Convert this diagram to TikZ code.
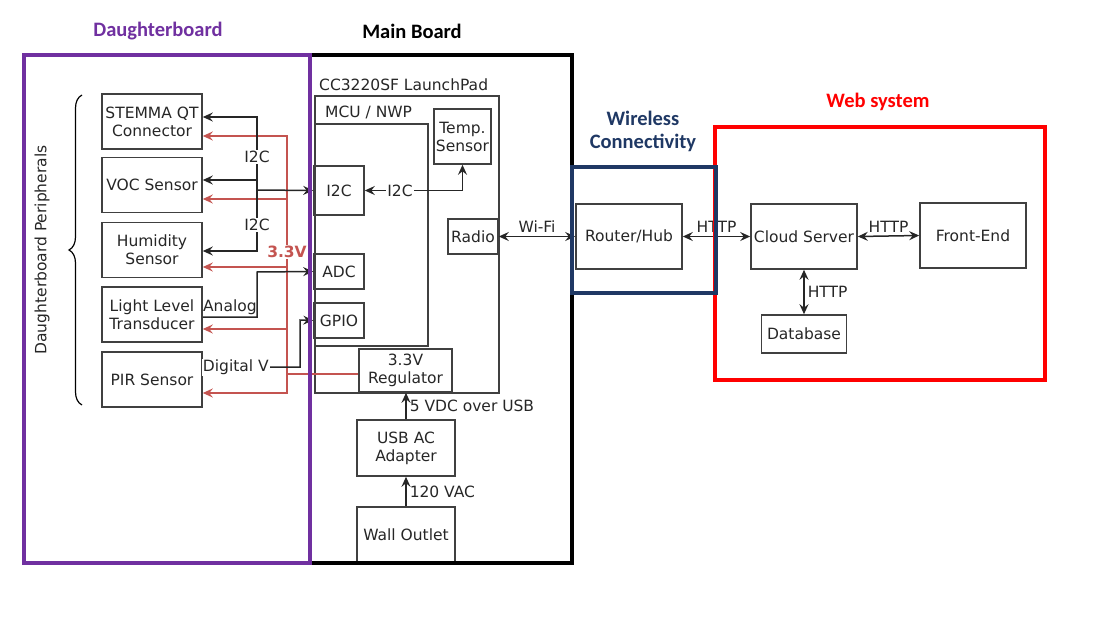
\documentclass[tikz,border=0pt]{standalone}
\usepackage{fontspec}
\setmainfont{DejaVu Sans}
\newfontfamily\headfont{Carlito}
\usetikzlibrary{arrows.meta,decorations.pathreplacing}
\definecolor{dbpurple}{RGB}{112,48,160}
\definecolor{wlnavy}{RGB}{31,56,100}
\definecolor{webred}{RGB}{255,0,0}
\definecolor{pwrred}{RGB}{196,84,80}
\tikzset{
  blk/.style={draw=black!75,line width=1.6pt,align=center,inner sep=1pt,
    font=\fontsize{15.5}{18}\selectfont,text=black!85},
  boardframe/.style={line width=4pt},
  head/.style={font=\headfont\bfseries\fontsize{20.5}{23}\selectfont,align=center},
  lbl/.style={font=\fontsize{15.5}{18}\selectfont,text=black!85,inner sep=1pt},
  bus/.style={draw=black!85,line width=1.5pt},
  pwr/.style={draw=pwrred,line width=1.5pt},
  >={Stealth[length=10pt,width=9pt,inset=3.5pt]}
}

\begin{document}
\begin{tikzpicture}[x=1pt,y=-1pt]
    \useasboundingbox (0,0) rectangle (1102,623);

    \node[head,text=dbpurple] (dbhead) at (158,31) {Daughterboard};
    \node[head] (mbhead) at (412,31) {Main Board};
    \node[head,text=wlnavy] (wlhead) at (643,131) {Wireless\\Connectivity};
    \node[head,text=webred] (webhead) at (878,102) {Web system};

    \node[lbl,rotate=90] (perlbl) at (42,250) {Daughterboard Peripherals};
    \draw[line width=1.2pt,decorate,decoration={brace,amplitude=13pt}] (82,405) -- (82,95);

    \node[blk,minimum width=100pt,minimum height=55pt] (stemma) at (152,121.5) {STEMMA QT\\Connector};
    \node[blk,minimum width=100pt,minimum height=55pt] (voc) at (152,185) {VOC Sensor};
    \node[blk,minimum width=100pt,minimum height=55pt] (humid) at (152,250) {Humidity\\Sensor};
    \node[blk,minimum width=100pt,minimum height=55pt] (light) at (152,314.5) {Light Level\\Transducer};
    \node[blk,minimum width=100pt,minimum height=55pt] (pir) at (152,379.5) {PIR Sensor};

    \node[blk,minimum width=184pt,minimum height=297pt,anchor=north west] (lp) at (314,95) {};
    \node[lbl,anchor=west] (lplbl) at (318,85) {CC3220SF LaunchPad};
    \node[blk,minimum width=113pt,minimum height=222pt,anchor=north west] (mcu) at (314,123) {};
    \node[lbl,anchor=west] (mculbl) at (324,112) {MCU / NWP};
    \node[blk,minimum width=57pt,minimum height=55pt] (temp) at (462.5,136.5) {Temp.\\Sensor};
    \node[blk,minimum width=50pt,minimum height=49pt] (i2cm) at (339,190.5) {I2C};
    \node[blk,minimum width=50pt,minimum height=35pt] (radio) at (473,236.5) {Radio};
    \node[blk,minimum width=50pt,minimum height=35pt] (adc) at (339,271.5) {ADC};
    \node[blk,minimum width=50pt,minimum height=35pt] (gpio) at (339,320.5) {GPIO};
    \node[blk,minimum width=93pt,minimum height=43pt] (reg) at (405.5,370.5) {3.3V\\Regulator};
    \node[blk,minimum width=98pt,minimum height=56pt] (usb) at (406,448) {USB AC\\Adapter};
    \node[blk,minimum width=98pt,minimum height=56pt] (wall) at (406,535) {Wall Outlet};

    \node[blk,minimum width=106pt,minimum height=65pt] (router) at (629,236.5) {Router/Hub};
    \node[blk,minimum width=106pt,minimum height=65pt] (cloud) at (804,236.5) {Cloud Server};
    \node[blk,minimum width=106pt,minimum height=65pt] (front) at (973,235.5) {Front-End};
    \node[blk,minimum width=85pt,minimum height=38pt] (db) at (804,334) {Database};

    \coordinate (i2cbus) at (257,190);
    \coordinate (pwrbus) at (287,374);
    \coordinate (anlg) at (257,272);
    \coordinate (dgt) at (300,320);

    \draw[pwr,<-] (stemma.east |- 0,136) -| (pwrbus);
    \draw[pwr,<-] (voc.east |- 0,199) -| (pwrbus);
    \draw[pwr,<-] (humid.east |- 0,267) -| (pwrbus);
    \draw[pwr,<-] (light.east |- 0,329) -| (pwrbus);
    \draw[pwr,<-] (pir.east |- 0,393) -| (pwrbus);
    \draw[pwr] (pwrbus) -- (reg.west |- pwrbus);
    \node[lbl,fill=white,text=pwrred,font=\bfseries\fontsize{15.5}{18}\selectfont] (pwrlbl) at (287,252) {3.3V};

    \draw[bus,<-] (stemma.east |- 0,117) -| (i2cbus);
    \draw[bus,<-] (voc.east |- 0,180) -| (i2cbus);
    \draw[bus,<-] (humid.east |- 0,251) -| (i2cbus);
    \draw[bus,->] (i2cbus) -- (i2cm.west);
    \node[lbl,fill=white] (i2ca) at (257,157) {I2C};
    \node[lbl,fill=white] (i2cb) at (257,225) {I2C};

    \draw[bus,->] (light.east |- 0,317) -| node[lbl,pos=0.25,above=1pt] {Analog} (anlg) -- (adc.west);
    \draw[bus,->] (pir.east |- 0,367) -| node[lbl,pos=0.17,fill=white] {Digital V} (dgt) -- (gpio.west);

    \draw[bus,<->] (i2cm.east) -| node[lbl,pos=0.18,fill=white] {I2C} (temp.south);
    \draw[bus,<->] (radio.east) -- node[lbl,above=2pt] {Wi-Fi} (router.west);
    \draw[bus,<->] (router.east) -- node[lbl,above=2pt] {HTTP} (cloud.west);
    \draw[bus,<->] (cloud.east) -- node[lbl,above=2pt] {HTTP} (front.west);
    \draw[bus,<->] (cloud.south) -- node[lbl,right=2pt] {HTTP} (db.north);
    \draw[bus,->] (usb.north) -- node[lbl,right=2pt] {5 VDC over USB} (usb.north |- reg.south);
    \draw[bus,->] (wall.north) -- node[lbl,right=2pt] {120 VAC} (usb.south);

    \draw[boardframe,black] (310,55) rectangle (572,563);
    \draw[boardframe,dbpurple] (24,55) rectangle (310,563);
    \draw[boardframe,webred] (715,127) rectangle (1045,380);
    \draw[boardframe,wlnavy] (572,167) rectangle (716,293);
\end{tikzpicture}
\end{document}
